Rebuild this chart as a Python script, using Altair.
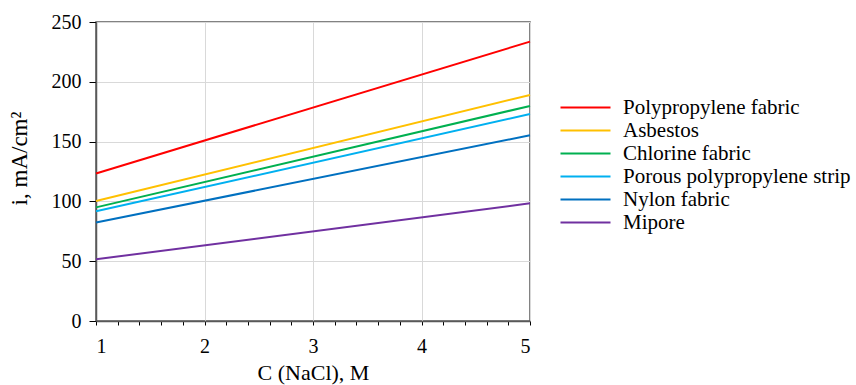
import altair as alt
import pandas as pd

series = ["Polypropylene fabric", "Asbestos", "Chlorine fabric",
          "Porous polypropylene strip", "Nylon fabric", "Mipore"]
colors = ["#FF0000", "#FFC000", "#00B050", "#00B0F0", "#0070C0", "#7030A0"]
conc = [1, 5]
values = {
    "Polypropylene fabric": [123.3, 233.6],
    "Asbestos": [100.3, 189.0],
    "Chlorine fabric": [95.0, 179.8],
    "Porous polypropylene strip": [91.7, 173.0],
    "Nylon fabric": [82.3, 155.3],
    "Mipore": [51.6, 98.4],
}
x_ticks = [round(1 + 0.2 * k, 1) for k in range(21)]
y_ticks = [0, 50, 100, 150, 200, 250]

rows = []
for s in series:
    for c, v in zip(conc, values[s]):
        rows.append({"C": c, "i": v, "series": s})
df = pd.DataFrame(rows)

FONT = "Liberation Serif"

chart = alt.Chart(df).mark_line(strokeWidth=2).encode(
    x=alt.X("C:Q", scale=alt.Scale(domain=[1, 5], nice=False, zero=False),
            axis=alt.Axis(values=x_ticks, title="C (NaCl), M",
                          labelExpr="datum.value % 1 === 0 ? format(datum.value, 'd') : ''",
                          gridOpacity={"condition": {"test": "datum.value % 1 !== 0", "value": 0}, "value": 1},
                          tickSize=4, labelPadding=11, titlePadding=6,
                          titleFontSize=22)),
    y=alt.Y("i:Q", scale=alt.Scale(domain=[0, 250], nice=False),
            axis=alt.Axis(values=y_ticks, title="i, mA/cm²", tickSize=7,
                          labelPadding=8, titlePadding=20, titleFontSize=23,
                          titleY=136)),
    color=alt.Color("series:N", scale=alt.Scale(domain=series, range=colors),
                    legend=alt.Legend(title=None, orient="none", legendX=479, legendY=75,
                                      symbolType="M-4,0H4", symbolSize=156.25,
                                      symbolStrokeWidth=2, labelOffset=27,
                                      labelFont=FONT, labelFontSize=21, labelLimit=400,
                                      labelColor="#000000", rowPadding=1)),
).properties(
    width=434, height=299,
    autosize=alt.AutoSizeParams(type="none"),
    padding={"left": 96, "top": 22, "right": 326, "bottom": 64},
).configure_view(
    stroke="#595959", strokeWidth=1.5
).configure_axis(
    labelFont=FONT, titleFont=FONT, labelFontSize=20,
    labelColor="#000000", titleColor="#000000", titleFontWeight="normal",
    domainColor="#595959", domainWidth=1.5, tickColor="#000000",
    gridColor="#D9D9D9", gridWidth=1,
)

chart.save("out.html", embed_options={"renderer": "svg", "actions": False})
